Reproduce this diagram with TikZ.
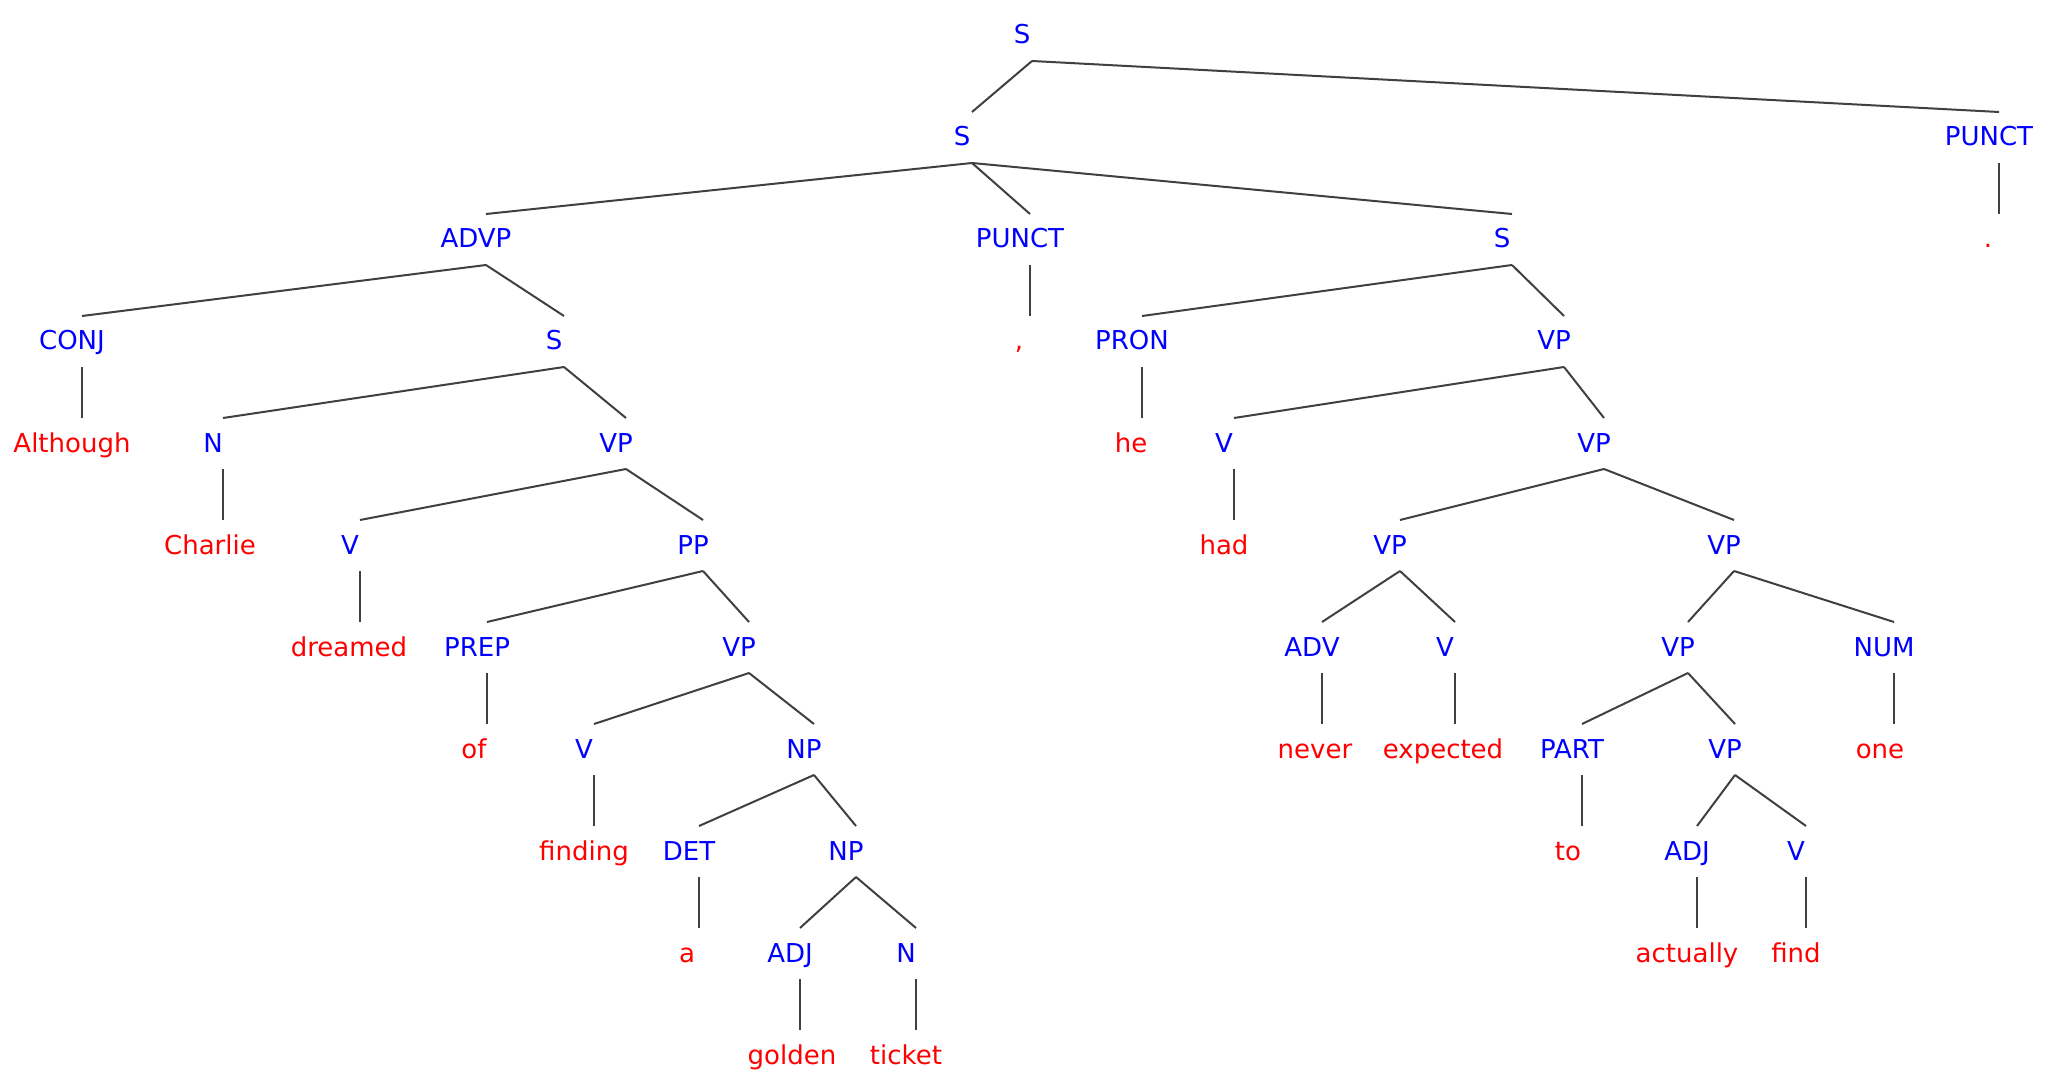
\documentclass[tikz,border=0pt]{standalone}
\usepackage{fontspec}
\setmainfont{DejaVu Sans}
\tikzset{
  cat/.style={text=blue, anchor=base, inner sep=0pt, font=\fontsize{13}{15}\selectfont},
  word/.style={cat, text=red},
  br/.style={draw=black!75, line width=1pt},
}
\newcommand{\edge}[2]{\draw[br] ([shift={(10,-17)}]#1.base) -- ([shift={(10,34)}]#2.base);}
\newcommand{\vedge}[2]{\draw[br] ([shift={(10,-17)}]#1.base) -- ([shift={(10,34)}]#2.base -| #1.base);}
\begin{document}
\begin{tikzpicture}[x=0.5pt,y=0.5pt]
\useasboundingbox[fill=white] (0,0) rectangle (2050,-1080);
% row 0
\node[cat] (s0) at (1022,-44) {S};
% row 1
\node[cat] (s1) at (962,-146) {S};
\node[cat] (pr) at (1989,-146) {PUNCT};
% row 2
\node[cat] (advp) at (476,-248) {ADVP};
\node[cat] (pm) at (1020,-248) {PUNCT};
\node[cat] (s2) at (1502,-248) {S};
\node[word] (dot) at (1988,-248) {.};
% row 3
\node[cat] (conj) at (72,-350) {CONJ};
\node[cat] (s3) at (554,-350) {S};
\node[word] (comma) at (1019,-350) {,};
\node[cat] (pron) at (1132,-350) {PRON};
\node[cat] (vpr3) at (1554,-350) {VP};
% row 4
\node[word] (although) at (72,-452) {Although};
\node[cat] (n4) at (213,-452) {N};
\node[cat] (vp4) at (616,-452) {VP};
\node[word] (he) at (1131,-452) {he};
\node[cat] (vr4) at (1224,-452) {V};
\node[cat] (vpr4) at (1594,-452) {VP};
% row 5
\node[word] (charlie) at (210,-554) {Charlie};
\node[cat] (v5) at (350,-554) {V};
\node[cat] (pp) at (693,-554) {PP};
\node[word] (had) at (1224,-554) {had};
\node[cat] (vpa5) at (1390,-554) {VP};
\node[cat] (vpb5) at (1724,-554) {VP};
% row 6
\node[word] (dreamed) at (349,-656) {dreamed};
\node[cat] (prep) at (477,-656) {PREP};
\node[cat] (vp6) at (739,-656) {VP};
\node[cat] (adv) at (1312,-656) {ADV};
\node[cat] (vr6) at (1445,-656) {V};
\node[cat] (vpr6) at (1678,-656) {VP};
\node[cat] (num) at (1884,-656) {NUM};
% row 7
\node[word] (of) at (474,-758) {of};
\node[cat] (v7) at (584,-758) {V};
\node[cat] (np7) at (804,-758) {NP};
\node[word] (never) at (1315,-758) {never};
\node[word] (expected) at (1443,-758) {expected};
\node[cat] (part) at (1572,-758) {PART};
\node[cat] (vpr7) at (1725,-758) {VP};
\node[word] (one) at (1880,-758) {one};
% row 8
\node[word] (finding) at (584,-860) {finding};
\node[cat] (det) at (689,-860) {DET};
\node[cat] (np8) at (846,-860) {NP};
\node[word] (to) at (1568,-860) {to};
\node[cat] (adjr8) at (1687,-860) {ADJ};
\node[cat] (vr8) at (1796,-860) {V};
% row 9
\node[word] (a) at (687,-962) {a};
\node[cat] (adj9) at (790,-962) {ADJ};
\node[cat] (n9) at (906,-962) {N};
\node[word] (actually) at (1687,-962) {actually};
\node[word] (find) at (1796,-962) {find};
% row 10
\node[word] (golden) at (792,-1064) {golden};
\node[word] (ticket) at (906,-1064) {ticket};
% edges
\edge{s0}{s1} \edge{s0}{pr}
\edge{s1}{advp} \edge{s1}{pm} \edge{s1}{s2}
\vedge{pr}{dot}
\edge{advp}{conj} \edge{advp}{s3}
\vedge{conj}{although}
\edge{s3}{n4} \edge{s3}{vp4}
\vedge{n4}{charlie}
\edge{vp4}{v5} \edge{vp4}{pp}
\vedge{v5}{dreamed}
\edge{pp}{prep} \edge{pp}{vp6}
\vedge{prep}{of}
\edge{vp6}{v7} \edge{vp6}{np7}
\vedge{v7}{finding}
\edge{np7}{det} \edge{np7}{np8}
\vedge{det}{a}
\edge{np8}{adj9} \edge{np8}{n9}
\vedge{adj9}{golden} \vedge{n9}{ticket}
\vedge{pm}{comma}
\edge{s2}{pron} \edge{s2}{vpr3}
\vedge{pron}{he}
\edge{vpr3}{vr4} \edge{vpr3}{vpr4}
\vedge{vr4}{had}
\edge{vpr4}{vpa5} \edge{vpr4}{vpb5}
\edge{vpa5}{adv} \edge{vpa5}{vr6}
\vedge{adv}{never} \vedge{vr6}{expected}
\edge{vpb5}{vpr6} \edge{vpb5}{num}
\edge{vpr6}{part} \edge{vpr6}{vpr7}
\vedge{part}{to}
\edge{vpr7}{adjr8} \edge{vpr7}{vr8}
\vedge{adjr8}{actually} \vedge{vr8}{find}
\vedge{num}{one}
\end{tikzpicture}
\end{document}
